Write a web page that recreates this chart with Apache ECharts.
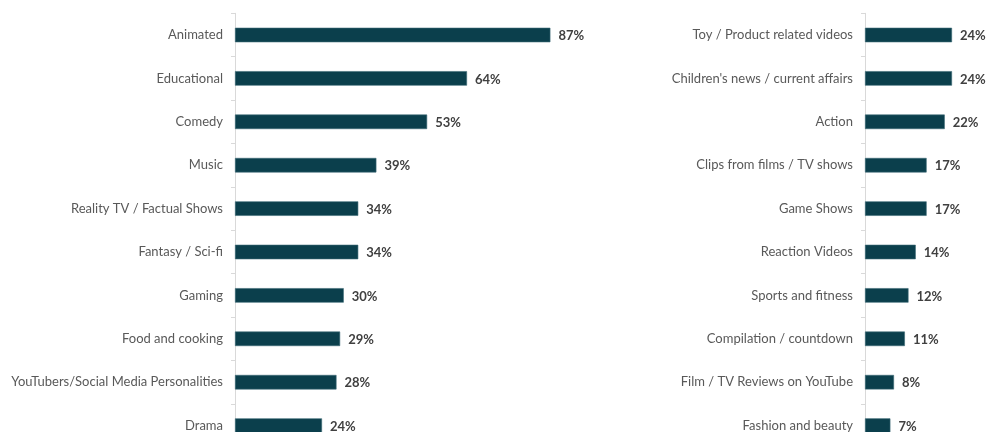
<!DOCTYPE html>
<html>
<head>
<meta charset="utf-8">
<script src="https://cdn.jsdelivr.net/npm/echarts@6/dist/echarts.min.js"></script>
<style>
html,body{margin:0;padding:0;background:#fff;overflow:hidden;}
#chart{width:988px;height:450px;}
</style>
</head>
<body>
<div id="chart"></div>
<script>
const leftCategories = ["Animated","Educational","Comedy","Music","Reality TV / Factual Shows","Fantasy / Sci-fi","Gaming","Food and cooking","YouTubers/Social Media Personalities","Drama"];
const leftValues = [87,64,53,39,34,34,30,29,28,24];
const rightCategories = ["Toy / Product related videos","Children's news / current affairs","Action","Clips from films / TV shows","Game Shows","Reaction Videos","Sports and fitness","Compilation / countdown","Film / TV Reviews on YouTube","Fashion and beauty"];
const rightValues = [24,24,22,17,17,14,12,11,8,7];

const FONT = 'Lato';
const barColor = '#0b3f4c';
const axisColor = '#d9d9d9';

function yAx(idx, cats){
  return {
    type:'category', gridIndex:idx, data:cats, inverse:true,
    axisLine:{show:true, lineStyle:{color:axisColor, width:1}},
    axisTick:{show:true, length:4, lineStyle:{color:axisColor}},
    axisLabel:{color:'#595959', fontFamily:FONT, fontSize:13, margin:12}
  };
}
function xAx(idx, max){
  return {type:'value', gridIndex:idx, min:0, max:max, show:false};
}
function ser(idx, vals){
  return {
    type:'bar', xAxisIndex:idx, yAxisIndex:idx, data:vals, barWidth:14.5,
    itemStyle:{color:barColor, borderColor:'#3d6a76', borderWidth:0.6},
    label:{show:true, position:'right', distance:8, offset:[0,1], formatter:'{c}%', color:'#404040', fontFamily:FONT, fontWeight:'bold', fontSize:13},
    silent:true, animation:false
  };
}

const chart = echarts.init(document.getElementById('chart'), null, {renderer:'canvas'});
chart.setOption({
  animation:false,
  backgroundColor:'#ffffff',
  grid:[
    {left:235, top:13.3, width:362.5, height:434},
    {left:865, top:13.3, width:108.75, height:434}
  ],
  xAxis:[xAx(0,100), xAx(1,30)],
  yAxis:[yAx(0,leftCategories), yAx(1,rightCategories)],
  series:[ser(0,leftValues), ser(1,rightValues)]
});
</script>
</body>
</html>
